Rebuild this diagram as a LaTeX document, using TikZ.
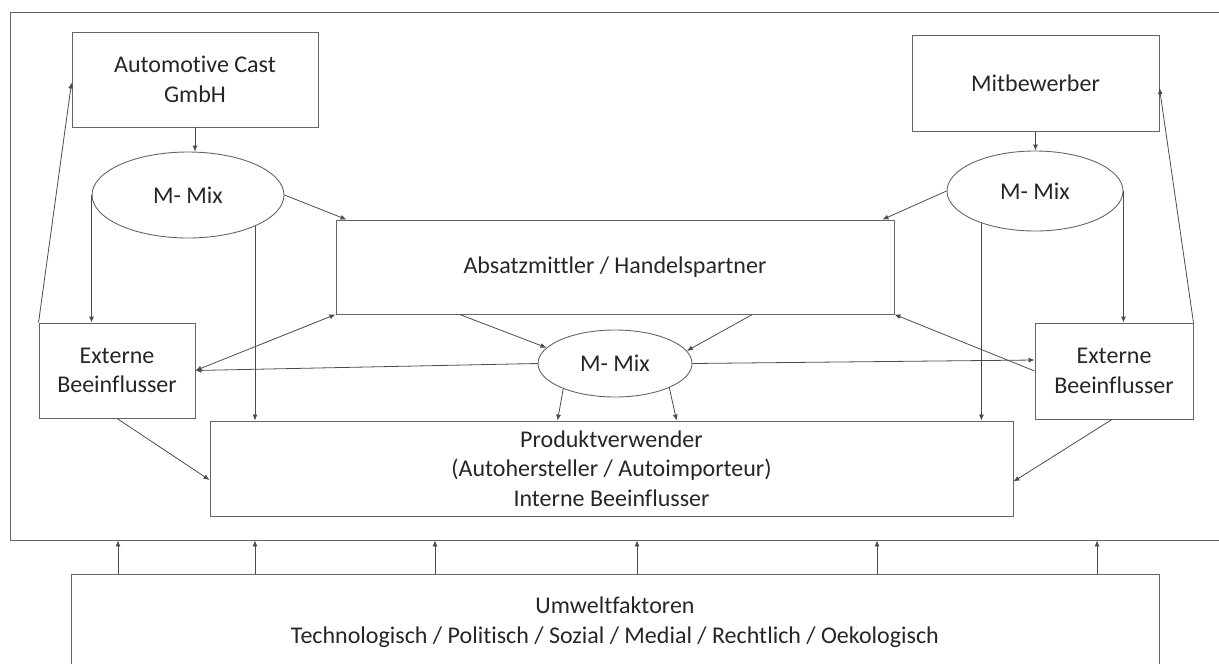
\documentclass[tikz,border=0pt]{standalone}
\usepackage{fontspec}
\setmainfont{Carlito}[Ligatures=NoCommon]
\usetikzlibrary{positioning}
\usetikzlibrary{shapes.geometric}
\usetikzlibrary{arrows.meta,calc}

\tikzset{
  box/.style={draw=black!60, line width=0.9pt, align=center, inner sep=0pt, text=black!85},
  mix/.style={ellipse, draw=black!60, line width=0.9pt, inner sep=0pt, text=black!85},
  arr/.style={->, draw=black!70, line width=0.8pt},
}

\begin{document}
\begin{tikzpicture}[x=1pt, y=-1pt, >={Latex[length=6pt,width=5pt]}, font=\fontsize{24}{29.5}\selectfont]
\useasboundingbox (0,0) rectangle (1219,664);
\clip (0,0) rectangle (1219,664);
%frame and environment
\node[box, minimum width=1220pt, minimum height=528pt] (frame) at (620,276) {};
\node[box, minimum width=1088pt, minimum height=96pt] (umwelt) at (615,622) {Umweltfaktoren\\Technologisch / Politisch / Sozial / Medial / Rechtlich / Oekologisch};
%boxes
\node[box, minimum width=246pt, minimum height=95pt] (ac) at (195,79.5) {Automotive Cast\\GmbH};
\node[box, minimum width=247pt, minimum height=96pt] (mitb) at (1035.5,83) {Mitbewerber};
\node[box, minimum width=558pt, minimum height=94pt] (absatz) at (615,267) {Absatzmittler / Handelspartner};
\node[box, minimum width=156pt, minimum height=95pt] (extl) at (117,370.5) {Externe\\Beeinflusser};
\node[box, minimum width=158pt, minimum height=96pt] (extr) at (1114,371) {Externe\\Beeinflusser};
\node[box, minimum width=803pt, minimum height=95pt] (prod) at (611.5,468.5) {Produktverwender\\(Autohersteller / Autoimporteur)\\Interne Beeinflusser};
%marketing mix
\node[mix, minimum width=192pt, minimum height=86pt] (mixl) at (188,195) {M- Mix};
\node[mix, minimum width=176pt, minimum height=80pt] (mixr) at (1035,191) {M- Mix};
\node[mix, minimum width=154pt, minimum height=67pt] (mixc) at (615,363.5) {M- Mix};

%arrows top
\draw[arr] (ac.south) -- (ac.south |- mixl.north);
\draw[arr] (mitb.south) -- (mitb.south |- mixr.north);
\draw[arr] (mixl.east) -- ($(absatz.north west)+(11,0)$);
\draw[arr] (mixr.west) -- ($(absatz.north east)+(-12,0)$);
\draw[arr] (mixl.west) -- (mixl.west |- extl.north);
\draw[arr] (mixr.east) -- (mixr.east |- extr.north);
\draw[arr] (mixl.-25) -- (mixl.-25 |- prod.north);
\draw[arr] (mixr.211) -- (mixr.211 |- prod.north);
%arrows middle
\draw[arr] ($(absatz.south west)+(124,0)$) -- (mixc.167);
\draw[arr] ($(absatz.south east)+(-142,0)$) -- (mixc.10);
\draw[arr] (mixc.206) -- ($(prod.north west)+(348,0)$);
\draw[arr] (mixc.-24) -- ($(prod.north west)+(467,0)$);
\draw[arr] (mixc.west) -- (extl.east);
\draw[arr] (mixc.east) -- ($(extr.west)+(0,-11)$);
\draw[arr, <->] (extl.east) -- (absatz.south west);
\draw[arr] (extr.west) -- (absatz.south east);
%arrows outer
\draw[arr] (extl.south) -- ($(prod.west)+(0,11.5)$);
\draw[arr] ($(extr.south)+(-2,0)$) -- ($(prod.east)+(0,13)$);
\draw[arr] (extl.north west) -- ($(ac.west)+(0,3)$);
\draw[arr] (extr.north east) -- ($(mitb.east)+(0,5)$);
%environment
\foreach \x in {118,255,435,637,877,1097}
  \draw[arr] (\x,0 |- umwelt.north) -- (\x,0 |- frame.south);
\end{tikzpicture}
\end{document}
